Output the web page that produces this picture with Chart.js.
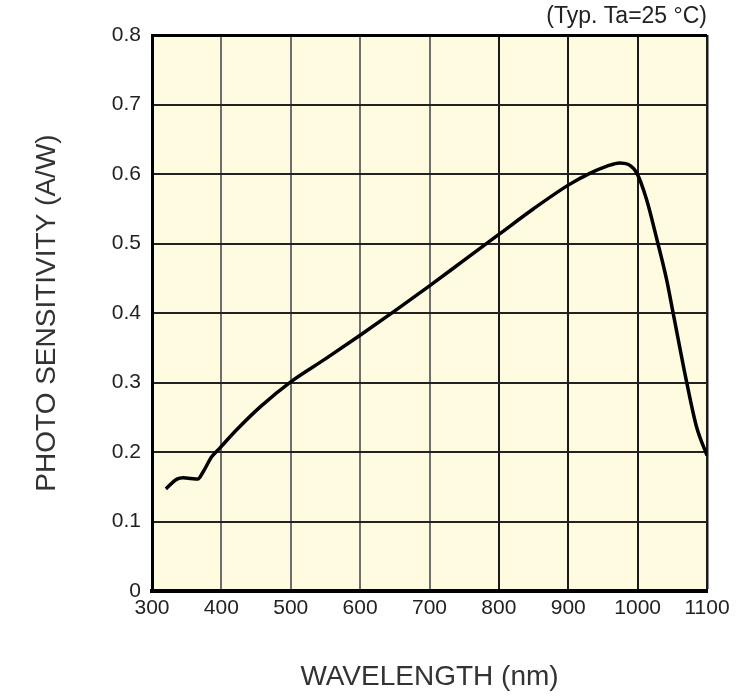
<!DOCTYPE html>
<html lang="en">
<head>
    <meta charset="UTF-8">
    <title>Photo Sensitivity vs Wavelength</title>
    <script src="https://cdn.jsdelivr.net/npm/chart.js"></script>
    <style>
        * { margin: 0; padding: 0; box-sizing: border-box; }
        body { background: #ffffff; width: 752px; height: 697px; overflow: hidden; }
        #chart { display: block; }
    </style>
</head>
<body>
    <canvas id="chart" width="752" height="697"></canvas>

    <script>
        // Spectral response curve
        const wavelengths = [320, 336, 345, 356, 366, 374, 386, 398, 422, 456, 500, 550, 600, 650, 700, 750, 800, 850, 900, 931, 955, 974, 986, 999, 1013, 1028, 1042, 1051, 1071, 1085, 1100];
        const sensitivity = [0.147, 0.161, 0.163, 0.162, 0.161, 0.172, 0.193, 0.206, 0.232, 0.265, 0.301, 0.334, 0.368, 0.403, 0.439, 0.476, 0.513, 0.550, 0.584, 0.601, 0.611, 0.616, 0.614, 0.601, 0.563, 0.505, 0.447, 0.401, 0.299, 0.236, 0.195];
        const xTicks = [300, 400, 500, 600, 700, 800, 900, 1000, 1100];
        const yTicks = [0, 0.1, 0.2, 0.3, 0.4, 0.5, 0.6, 0.7, 0.8];

        const points = wavelengths.map((w, i) => ({ x: w, y: sensitivity[i] }));

        const plotBackground = {
            id: 'plotBackground',
            beforeDraw(chart) {
                const { ctx, chartArea: a } = chart;
                ctx.save();
                ctx.fillStyle = '#fffbe0';
                ctx.fillRect(a.left, a.top, a.right - a.left, a.bottom - a.top);
                ctx.restore();
            }
        };

        const noteText = {
            id: 'noteText',
            afterDraw(chart) {
                const { ctx, chartArea: a } = chart;
                ctx.save();
                ctx.font = '23px "Liberation Sans", Arial, sans-serif';
                ctx.fillStyle = '#222';
                ctx.textAlign = 'right';
                ctx.textBaseline = 'middle';
                ctx.fillText('(Typ. Ta=25 \u00B0C)', a.right, 17);
                ctx.restore();
            }
        };

        const tickFont = { family: '"Liberation Sans", Arial, sans-serif', size: 21 };
        const titleFont = { family: '"Liberation Sans", Arial, sans-serif', size: 28 };

        new Chart(document.getElementById('chart'), {
            type: 'line',
            data: {
                datasets: [{
                    data: points,
                    borderColor: '#000',
                    borderWidth: 3.5,
                    pointRadius: 0,
                    fill: false,
                    cubicInterpolationMode: 'monotone'
                }]
            },
            options: {
                responsive: false,
                animation: false,
                layout: { padding: { top: 35, right: 45, left: 0, bottom: 0 } },
                plugins: {
                    legend: { display: false },
                    tooltip: { enabled: false }
                },
                scales: {
                    x: {
                        type: 'linear',
                        min: 300,
                        max: 1100,
                        afterBuildTicks: s => { s.ticks = xTicks.map(v => ({ value: v })); },
                        afterFit: s => { s.height = 106; },
                        ticks: { font: tickFont, color: '#222', padding: 5, maxRotation: 0, callback: v => String(v) },
                        grid: {
                            drawTicks: false,
                            color: ctx => ctx.tick && ctx.tick.value >= 800 ? '#1a1a1a' : '#6e6e6e',
                            lineWidth: ctx => ctx.tick && ctx.tick.value === 1100 ? 2.5 : 2
                        },
                        border: { color: '#000', width: 4 },
                        title: {
                            display: true,
                            text: 'WAVELENGTH (nm)',
                            font: titleFont,
                            color: '#333',
                            padding: { top: 0, bottom: 3 }
                        }
                    },
                    y: {
                        min: 0,
                        max: 0.8,
                        afterBuildTicks: s => { s.ticks = yTicks.map(v => ({ value: v })); },
                        afterFit: s => { s.width = 152; },
                        ticks: { font: tickFont, color: '#222', padding: 11, callback: v => String(v) },
                        grid: {
                            drawTicks: false,
                            color: ctx => ctx.tick && ctx.tick.value === 0.8 ? '#000' : '#222',
                            lineWidth: ctx => ctx.tick && ctx.tick.value === 0.8 ? 3 : 2
                        },
                        border: { color: '#000', width: 3 },
                        title: {
                            display: true,
                            text: 'PHOTO SENSITIVITY (A/W)',
                            font: titleFont,
                            color: '#333',
                            padding: { top: 30, bottom: 0 }
                        }
                    }
                }
            },
            plugins: [plotBackground, noteText]
        });
    </script>
</body>
</html>
